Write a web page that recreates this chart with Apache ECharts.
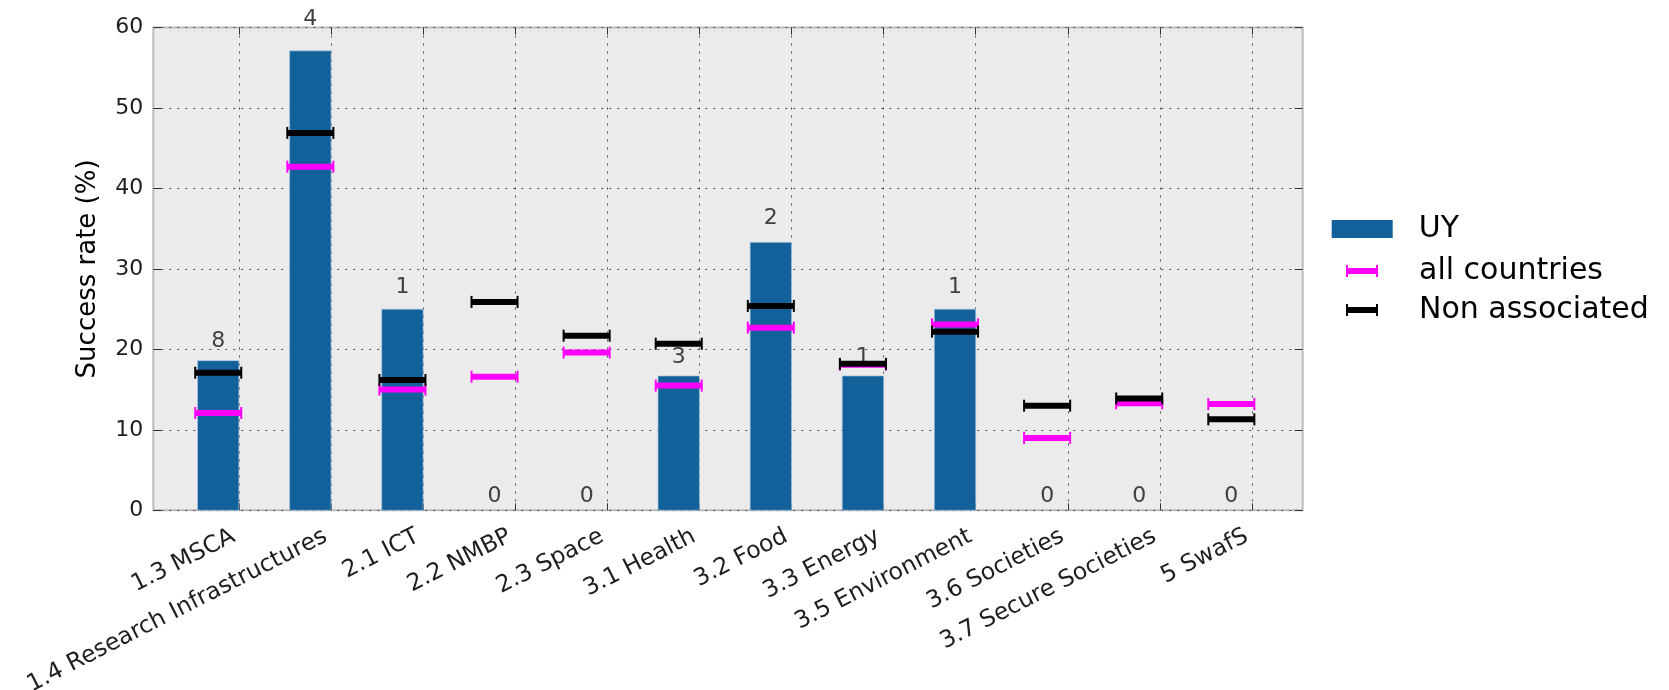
<!DOCTYPE html>
<html>
<head>
<meta charset="utf-8">
<title>Success rate by programme</title>
<script src="https://cdn.jsdelivr.net/npm/echarts@6/dist/echarts.min.js"></script>
<style>
  html, body { margin: 0; padding: 0; background: #ffffff; }
  #chart { width: 1669px; height: 690px; }
</style>
</head>
<body>
<div id="chart"></div>
<script>
// Programme parts on the horizontal axis
const categories = [
  '1.3 MSCA', '1.4 Research Infrastructures', '2.1 ICT', '2.2 NMBP', '2.3 Space',
  '3.1 Health', '3.2 Food', '3.3 Energy', '3.5 Environment', '3.6 Societies',
  '3.7 Secure Societies', '5 SwafS'
];
// UY success rate (%) and number of successful proposals
const uyRate = [18.6, 57.1, 25.0, 0, 0, 16.7, 33.3, 16.7, 25.0, 0, 0, 0];
const uyCount = [8, 4, 1, 0, 0, 3, 2, 1, 1, 0, 0, 0];
// Reference success rates (%)
const allCountriesRate = [12.1, 42.7, 15.0, 16.6, 19.6, 15.5, 22.7, 18.1, 23.1, 9.0, 13.3, 13.2];
const nonAssociatedRate = [17.1, 46.9, 16.2, 25.9, 21.7, 20.7, 25.4, 18.2, 22.2, 13.0, 13.9, 11.3];
// Value axis ticks
const yTicks = [0, 10, 20, 30, 40, 50, 60];

const FONT = 'DejaVu Sans';
const BAR_COLOR = '#13619a';
const BAR_WIDTH = 0.45;   // each bar ends at its category tick
const MARK_HALF = 0.25;   // half-length of the comparison markers
const X_MIN = -0.93;
const X_MAX = 11.55;
const catIndex = categories.map((_, i) => i);
const MARK_ICON = 'path://M0,0h2v12h-2z M0,3h32v6h-32z M30,0h2v12h-2z';

function barItem(params, api) {
  const i = api.value(0);
  const v = api.value(1);
  const n = api.value(2);
  const children = [];
  if (v > 0) {
    const tl = api.coord([i - BAR_WIDTH, v]);
    const br = api.coord([i, 0]);
    children.push({
      type: 'rect',
      shape: { x: tl[0], y: tl[1], width: br[0] - tl[0], height: br[1] - tl[1] },
      style: { fill: BAR_COLOR, stroke: 'rgba(170,200,225,0.7)', lineWidth: 1 }
    });
  }
  // count label sits a little above the bar top
  const at = api.coord([i - BAR_WIDTH / 2, v * 1.0386 + 0.87]);
  children.push({
    type: 'text',
    x: at[0],
    y: at[1] - 6.6,
    style: {
      text: String(n),
      fontFamily: FONT,
      fontSize: 22,
      fill: '#404040',
      align: 'center',
      verticalAlign: 'middle'
    }
  });
  return { type: 'group', children: children };
}

function markerItem(color) {
  return function (params, api) {
    const c = api.value(0) - BAR_WIDTH / 2;
    const v = api.value(1);
    const a = api.coord([c - MARK_HALF, v]);
    const b = api.coord([c + MARK_HALF, v]);
    const h = 6;
    return {
      type: 'group',
      children: [
        { type: 'line', shape: { x1: a[0], y1: a[1], x2: b[0], y2: b[1] }, style: { stroke: color, lineWidth: 6 } },
        { type: 'line', shape: { x1: a[0], y1: a[1] - h, x2: a[0], y2: a[1] + h }, style: { stroke: color, lineWidth: 2 } },
        { type: 'line', shape: { x1: b[0], y1: b[1] - h, x2: b[0], y2: b[1] + h }, style: { stroke: color, lineWidth: 2 } }
      ]
    };
  };
}

const gridLine = { color: '#505050', width: 1, type: [2, 6] };
const tickLine = { color: '#333333', width: 1 };

const option = {
  animation: false,
  backgroundColor: '#ffffff',
  grid: {
    left: 153.3, right: 366.3, top: 27.5, bottom: 179.7,
    show: true, backgroundColor: '#ebebeb', borderColor: '#bdbdbd', borderWidth: 2,
    outerBoundsMode: 'none'
  },
  legend: [
    {
      data: [{ name: 'UY', icon: 'rect' }],
      orient: 'vertical', left: 1331.7, top: 214, padding: 0,
      itemWidth: 61, itemHeight: 18, selectedMode: false,
      itemStyle: { borderWidth: 0 },
      textStyle: { fontFamily: FONT, fontSize: 30, color: '#000000', padding: [0, 0, 0, 21] }
    },
    {
      data: [{ name: 'all countries', icon: MARK_ICON }, { name: 'Non associated', icon: MARK_ICON }],
      orient: 'vertical', left: 1346, top: 256, padding: 0,
      itemWidth: 32, itemHeight: 12, itemGap: 9, selectedMode: false,
      itemStyle: { borderWidth: 0 },
      textStyle: { fontFamily: FONT, fontSize: 30, color: '#000000', padding: [0, 0, 0, 36] }
    }
  ],
  xAxis: [
    {
      type: 'value', min: X_MIN, max: X_MAX, position: 'bottom',
      axisLine: { show: false, onZero: false },
      axisTick: { show: true, inside: true, length: 7, customValues: catIndex, lineStyle: tickLine },
      axisLabel: {
        customValues: catIndex, rotate: 27, margin: 22,
        formatter: (v) => categories[Math.round(v)] || '',
        fontFamily: FONT, fontSize: 23.5, color: '#1e1e1e', padding: [0, 6, 0, 0]
      },
      splitLine: { show: true, lineStyle: gridLine }
    },
    {
      type: 'value', min: X_MIN, max: X_MAX, position: 'top',
      axisLine: { show: false, onZero: false },
      axisTick: { show: true, inside: true, length: 7, customValues: catIndex, lineStyle: tickLine },
      axisLabel: { show: false },
      splitLine: { show: false }
    }
  ],
  yAxis: [
    {
      type: 'value', min: yTicks[0], max: yTicks[yTicks.length - 1], interval: yTicks[1] - yTicks[0],
      position: 'left',
      name: 'Success rate (%)', nameLocation: 'middle', nameRotate: 90, nameGap: 52,
      nameTextStyle: { fontFamily: FONT, fontSize: 26, color: '#000000' },
      axisLine: { show: false, onZero: false },
      axisTick: { show: true, inside: true, length: 8, lineStyle: tickLine },
      axisLabel: { margin: 10, fontFamily: FONT, fontSize: 22, color: '#1e1e1e' },
      splitLine: { show: true, lineStyle: gridLine }
    },
    {
      type: 'value', min: yTicks[0], max: yTicks[yTicks.length - 1], interval: yTicks[1] - yTicks[0],
      position: 'right',
      axisLine: { show: false, onZero: false },
      axisTick: { show: true, inside: true, length: 8, lineStyle: tickLine },
      axisLabel: { show: false },
      splitLine: { show: false }
    }
  ],
  series: [
    {
      name: 'UY', type: 'custom', z: 2, xAxisIndex: 0, yAxisIndex: 0,
      itemStyle: { color: BAR_COLOR },
      renderItem: barItem,
      data: catIndex.map((i) => [i, uyRate[i], uyCount[i]])
    },
    {
      name: 'all countries', type: 'custom', z: 3, xAxisIndex: 0, yAxisIndex: 0,
      itemStyle: { color: '#ff00ff' },
      renderItem: markerItem('#ff00ff'),
      data: catIndex.map((i) => [i, allCountriesRate[i]])
    },
    {
      name: 'Non associated', type: 'custom', z: 4, xAxisIndex: 0, yAxisIndex: 0,
      itemStyle: { color: '#000000' },
      renderItem: markerItem('#000000'),
      data: catIndex.map((i) => [i, nonAssociatedRate[i]])
    }
  ]
};

const chart = echarts.init(document.getElementById('chart'));
chart.setOption(option);
</script>
</body>
</html>
